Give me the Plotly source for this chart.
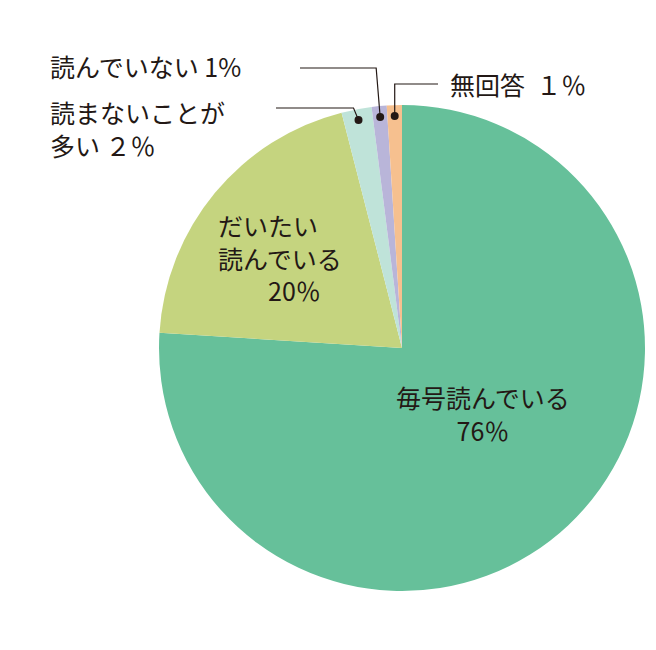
import math
import plotly.graph_objects as go

labels = ["毎号読んでいる", "だいたい読んでいる", "読まないことが多い", "読んでいない", "無回答"]
values = [76, 20, 2, 1, 1]
colors = ["#66c09a", "#c5d47f", "#bfe3d9", "#b9b5d9", "#f6c08f"]

W, H = 656, 650
CX, CY, R = 394, 340, 243

def px(x): return x / W
def py(y): return 1 - y / H

fig = go.Figure(go.Pie(
    labels=labels, values=values, sort=False, direction="clockwise", rotation=0,
    marker=dict(colors=colors, line=dict(width=0)), textinfo="none", hoverinfo="label+percent",
    domain=dict(x=[px(CX - R), px(CX + R)], y=[py(CY + R), py(CY - R)]),
))

font = dict(family="Noto Sans CJK JP", size=25, color="#231815")
ann = [
    dict(x=px(475), y=py(405), text="毎号読んでいる<br>76％", align="center"),
    dict(x=px(272), y=py(250), text="だいたい<br>読んでいる<br>　　20％", align="left"),
]
# dots on small slices at mid angles
total = sum(values)
cum = 0
dots = []
for v in values:
    mid = (cum + v / 2) / total * 2 * math.pi
    cum += v
    dots.append((CX + 232 * math.sin(mid), CY - 232 * math.cos(mid)))

shapes = []
def dot(x, y):
    shapes.append(dict(type="circle", xref="paper", yref="paper",
                       x0=px(x - 4), x1=px(x + 4), y0=py(y + 4), y1=py(y - 4),
                       fillcolor="#231815", line=dict(width=0)))
def line(pts):
    path = "M " + " L ".join(f"{px(x)},{py(y)}" for x, y in pts)
    shapes.append(dict(type="path", xref="paper", yref="paper", path=path,
                       line=dict(color="#231815", width=1.2)))

(x2, y2), (x3, y3), (x4, y4) = dots[2], dots[3], dots[4]
dot(x2, y2); line([(x2, y2), (x2 - 5, 100), (268, 100)])
dot(x3, y3); line([(x3, y3), (x3 - 4, 60), (292, 60)])
dot(x4, y4); line([(x4, y4), (x4, 76), (430, 76)])

ann += [
    dict(x=px(40), y=py(58), text="読んでいない 1%", xanchor="left", align="left"),
    dict(x=px(40), y=py(120), text="読まないことが<br>多い ２％", xanchor="left", align="left"),
    dict(x=px(440), y=py(76), text="無回答  １％", xanchor="left", align="left"),
]
for a in ann:
    a.update(xref="paper", yref="paper", showarrow=False, font=font)
    a.setdefault("xanchor", "center")
    a.setdefault("yanchor", "middle")

fig.update_layout(width=W, height=H, margin=dict(l=0, r=0, t=0, b=0),
                  paper_bgcolor="white", showlegend=False, annotations=ann, shapes=shapes)
fig.write_html("out.html")
